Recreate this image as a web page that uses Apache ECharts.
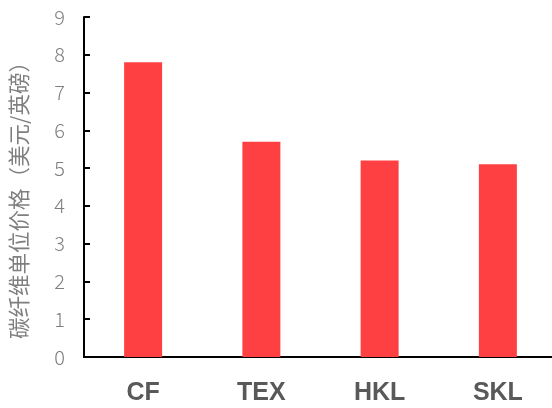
<!DOCTYPE html>
<html>
<head>
<meta charset="utf-8">
<script src="https://cdn.jsdelivr.net/npm/echarts@6/dist/echarts.min.js"></script>
<style>
  html, body { margin: 0; padding: 0; background: #fff; }
  #chart { width: 552px; height: 408px; }
</style>
</head>
<body>
<div id="chart"></div>
<script>
// Carbon fibre unit price by product
const categories = ['CF', 'TEX', 'HKL', 'SKL'];
const prices = [7.8, 5.7, 5.2, 5.1];
const yTicks = { min: 0, max: 9, interval: 1 };
const yName = '碳纤维单位价格（美元/英磅）';

const chart = echarts.init(document.getElementById('chart'), null, { renderer: 'canvas' });
chart.setOption({
  animation: false,
  grid: { left: 84, width: 473, top: 17, bottom: 51, containLabel: false, outerBoundsMode: 'none' },
  xAxis: {
    type: 'category',
    data: categories,
    axisLine: { lineStyle: { color: '#000', width: 2 } },
    axisTick: { show: false },
    axisLabel: {
      margin: 24,
      fontFamily: 'Liberation Sans',
      fontSize: 25,
      fontWeight: 'bold',
      color: '#595959'
    }
  },
  yAxis: {
    type: 'value',
    min: yTicks.min,
    max: yTicks.max,
    interval: yTicks.interval,
    name: yName,
    nameLocation: 'middle',
    nameGap: 54,
    nameTextStyle: {
      fontFamily: 'Noto Sans CJK SC',
      fontSize: 21.5,
      color: '#7f7f7f',
      padding: [0, 16, 0, 0]
    },
    axisLine: { show: true, lineStyle: { color: '#000', width: 2 } },
    axisTick: { show: true, inside: true, length: 6, lineStyle: { color: '#000', width: 2 } },
    splitLine: { show: false },
    axisLabel: {
      margin: 19,
      fontFamily: 'Noto Sans CJK SC',
      fontSize: 20,
      fontWeight: 300,
      color: '#7f7f7f'
    }
  },
  series: [{
    type: 'bar',
    data: prices,
    barWidth: 38,
    itemStyle: { color: '#FF4043' }
  }]
});
</script>
</body>
</html>
